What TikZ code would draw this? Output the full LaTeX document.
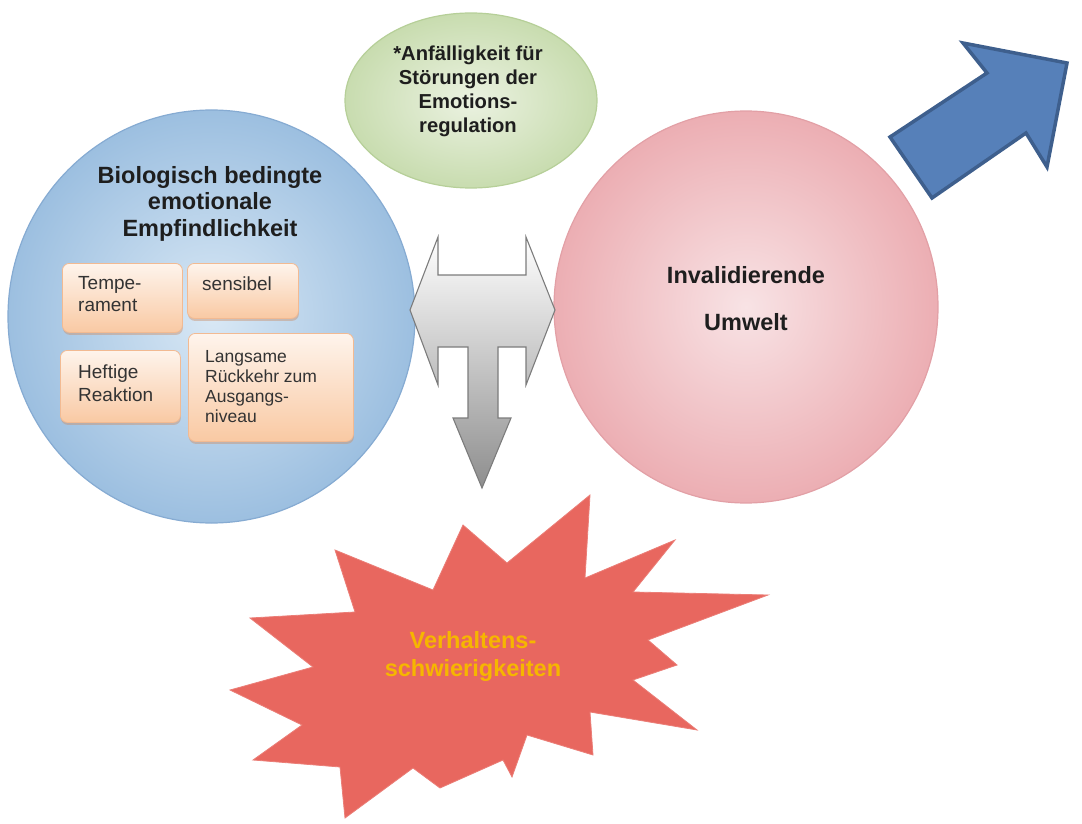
\documentclass[tikz,border=0pt]{standalone}
\usepackage{fontspec}
\setmainfont{Liberation Sans}
\usetikzlibrary{shapes.geometric,shadows,calc}
\definecolor{blueIn}{HTML}{D9E8F5}
\definecolor{blueOut}{HTML}{9CBFE0}
\definecolor{blueBd}{HTML}{86ABD2}
\definecolor{pinkIn}{HTML}{F8E3E5}
\definecolor{pinkOut}{HTML}{ECAEB3}
\definecolor{pinkBd}{HTML}{E2A0A6}
\definecolor{greenIn}{HTML}{EBF2E1}
\definecolor{greenOut}{HTML}{C8DCAF}
\definecolor{greenBd}{HTML}{B6CF98}
\definecolor{boxTop}{HTML}{FEF4EC}
\definecolor{boxBot}{HTML}{F9C9A3}
\definecolor{boxBd}{HTML}{F2BA92}
\definecolor{boxShadow}{HTML}{C9906C}
\definecolor{arrowBlue}{HTML}{5680B9}
\definecolor{arrowBlueBd}{HTML}{3E5F8D}
\definecolor{grayBot}{HTML}{8E8E8E}
\definecolor{grayBd}{HTML}{7C7C7C}
\definecolor{starRed}{HTML}{E8675F}
\definecolor{starText}{HTML}{F6B600}
\definecolor{titleText}{HTML}{1E1E1E}
\definecolor{boxText}{HTML}{333333}
\begin{document}
\begin{tikzpicture}[x=1pt,y=-1pt,
  bigshape/.style={ellipse, inner sep=0pt, line width=1.2pt},
  subbox/.style={rectangle, rounded corners=7pt, inner sep=0pt, anchor=north west,
     top color=boxTop, bottom color=boxBot, draw=boxBd, line width=0.8pt,
     drop shadow={shadow xshift=0.5pt, shadow yshift=-2.5pt, opacity=0.45, fill=boxShadow}},
  subtext/.style={inner sep=0pt, anchor=north west, align=left, text=boxText,
     font=\fontsize{19}{21.5}\selectfont},
  titletext/.style={inner sep=0pt, anchor=north, align=center, text=titleText},
]
\useasboundingbox (0,0) rectangle (1082,824);

% green ellipse
\node[bigshape, minimum width=252, minimum height=175, draw=greenBd,
      inner color=greenIn, outer color=greenOut] (green) at (471,100.5) {};
\node[titletext, font=\bfseries\fontsize{20.2}{24}\selectfont] (greentxt) at (468,46)
  {*Anfälligkeit für\\Störungen der\\Emotions-\\regulation};

% blue circle
\node[bigshape, minimum width=407, minimum height=413, draw=blueBd,
      inner color=blueIn, outer color=blueOut] (bio) at (211.5,316.5) {};
\node[titletext, font=\bfseries\fontsize{23.5}{26.5}\selectfont] (biotxt) at (210,166)
  {Biologisch bedingte\\emotionale\\Empfindlichkeit};

% sub boxes
\node[subbox, minimum width=120, minimum height=69] (b1) at (62,263) {};
\node[subbox, minimum width=111, minimum height=55] (b2) at (187,263) {};
\node[subbox, minimum width=120, minimum height=72] (b3) at (60,350) {};
\node[subbox, minimum width=165, minimum height=108] (b4) at (188,333) {};
\node[subtext] (b1t) at (78,276.5) {Tempe-\\rament};
\node[subtext] (b2t) at (202,276.5) {sensibel};
\node[subtext, font=\fontsize{19}{23}\selectfont] (b3t) at (78,365) {Heftige\\Reaktion};
\node[subtext, font=\fontsize{17.5}{20}\selectfont] (b4t) at (205,350.5)
  {Langsame\\Rückkehr zum\\Ausgangs-\\niveau};

% pink circle
\node[bigshape, minimum width=384, minimum height=392, draw=pinkBd,
      inner color=pinkIn, outer color=pinkOut] (env) at (746,307) {};
\node[titletext, font=\bfseries\fontsize{23.5}{46.3}\selectfont] (envtxt) at (746,266.5)
  {Invalidierende\\Umwelt};

% T-shaped double arrow
\path[draw=grayBd, line width=1.1pt, line join=miter, top color=white, bottom color=grayBot]
  (410,310) -- (438,237) -- (438,275) -- (526,275) -- (526,237) -- (555,310)
  -- (526,385) -- (526,347) -- (498,347) -- (498,418) -- (511,418) -- (482,488)
  -- (453,418) -- (468,418) -- (468,347) -- (438,347) -- (438,385) -- cycle;

% blue arrow
\path[fill=arrowBlue, draw=arrowBlueBd, line width=3.5pt, line join=miter]
  (890,137) -- (932,198) -- (1026,133) -- (1047,167) -- (1067,63) -- (963,43) -- (987,73) -- cycle;

% star burst
\path[fill=starRed, draw=starRed!85!white, line width=0.8pt, line join=miter]
  (335,550) -- (433,590) -- (463,525) -- (507,563) -- (590,495) -- (585,578)
  -- (675,540) -- (633,592) -- (768,595) -- (648,640) -- (677,665) -- (633,680)
  -- (697,730) -- (590,712) -- (593,755) -- (527,735) -- (512,777) -- (503,760)
  -- (440,788) -- (413,768) -- (345,818) -- (340,767) -- (253,760) -- (302,725)
  -- (230,690) -- (313,667) -- (250,618) -- (355,612) -- cycle;
\node[inner sep=0pt, anchor=north, align=center, text=starText,
      font=\bfseries\fontsize{23.5}{28}\selectfont] (startxt) at (473,631)
  {Verhaltens-\\schwierigkeiten};
\end{tikzpicture}
\end{document}
